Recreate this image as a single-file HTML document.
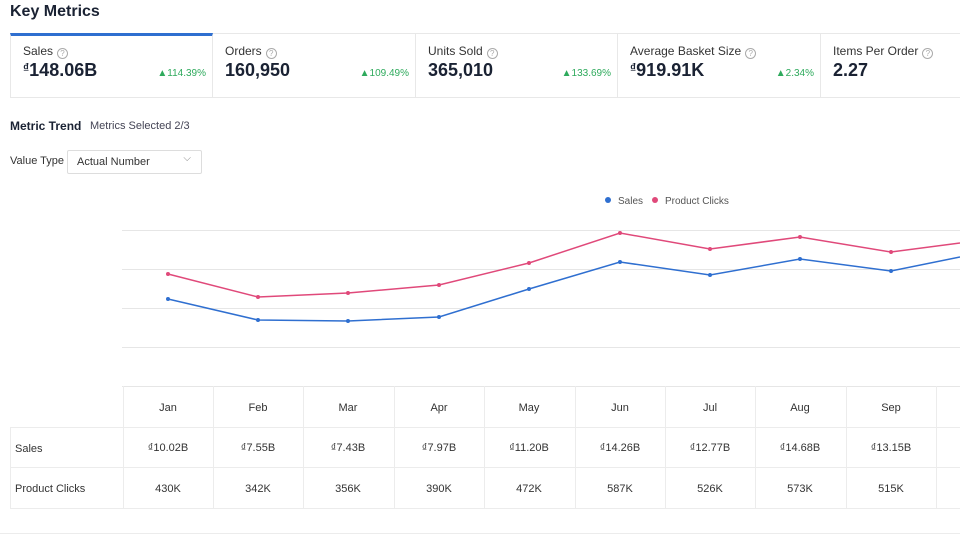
<!DOCTYPE html>
<html><head><meta charset="utf-8"><style>
*{margin:0;padding:0;box-sizing:border-box}
body{width:960px;height:539px;overflow:hidden;background:#fff;font-family:"Liberation Sans",Arial,sans-serif;color:#333;position:relative}
.a{position:absolute;white-space:nowrap}
.card{position:absolute;top:33px;height:65px;border:1px solid #e8e8e8;border-left:none}
.lbl{position:absolute;left:12px;top:10px;font-size:12px;color:#333}
.val{position:absolute;left:12px;top:26px;font-size:18px;font-weight:bold;color:#1a2233}
.pct{position:absolute;right:6px;top:34px;font-size:10px;color:#2eaa5c}
.q{display:inline-block;width:11px;height:11px;border:1px solid #aaa;border-radius:50%;font-size:8px;text-align:center;line-height:9px;color:#aaa;margin-left:4px;vertical-align:-1px}
.cell{position:absolute;font-size:11px;color:#333;text-align:center;border-right:1px solid #eee;border-bottom:1px solid #eee}
</style></head><body>
<div class="a" style="left:10px;top:3px;font-size:16px;font-weight:bold;color:#1a2233">Key Metrics</div>
<div class="card" style="left:10px;width:203px;border-left:1px solid #e8e8e8;border-top:3px solid #2f6fd0"><div class="lbl" style="top:8px">Sales<span class="q">?</span></div><div class="val" style="top:24px"><span style="font-size:12px;vertical-align:4px">₫</span>148.06B</div><div class="pct" style="top:32px">▲114.39%</div></div>
<div class="card" style="left:213px;width:203px"><div class="lbl">Orders<span class="q">?</span></div><div class="val">160,950</div><div class="pct">▲109.49%</div></div>
<div class="card" style="left:416px;width:202px"><div class="lbl">Units Sold<span class="q">?</span></div><div class="val">365,010</div><div class="pct">▲133.69%</div></div>
<div class="card" style="left:618px;width:203px"><div class="lbl">Average Basket Size<span class="q">?</span></div><div class="val"><span style="font-size:12px;vertical-align:4px">₫</span>919.91K</div><div class="pct">▲2.34%</div></div>
<div class="card" style="left:821px;width:150px"><div class="lbl">Items Per Order<span class="q">?</span></div><div class="val">2.27</div></div>
<div class="a" style="left:10px;top:119px;font-size:12px;font-weight:bold;color:#1a2233">Metric Trend</div>
<div class="a" style="left:90px;top:120px;font-size:11px;color:#445">Metrics Selected 2/3</div>
<div class="a" style="left:10px;top:155px;font-size:11px;color:#333">Value Type</div>
<div class="a" style="left:67px;top:150px;width:135px;height:24px;border:1px solid #ddd;border-radius:2px;font-size:11px;padding:5px 9px;color:#333">Actual Number<span style="position:absolute;right:10px;top:2px;color:#888;font-size:10px">⌵</span></div>
<svg class="a" style="left:0;top:0" width="960" height="539">
<g stroke="#e6e6e6" stroke-width="1"><line x1="122" y1="230.5" x2="960" y2="230.5"/><line x1="122" y1="269.5" x2="960" y2="269.5"/><line x1="122" y1="308.5" x2="960" y2="308.5"/><line x1="122" y1="347.5" x2="960" y2="347.5"/><line x1="122" y1="386.5" x2="960" y2="386.5"/></g>
<circle cx="608" cy="200" r="3" fill="#2f6fd0"/><text x="618" y="204" font-size="10" fill="#555" font-family="Liberation Sans">Sales</text>
<circle cx="655" cy="200" r="3" fill="#e0497a"/><text x="665" y="204" font-size="10" fill="#555" font-family="Liberation Sans">Product Clicks</text>
<polyline fill="none" stroke="#e0497a" stroke-width="1.5" points="168,274 258,297 348,293 439,285 529,263 620,233 710,249 800,237 891,252 960,243"/>
<polyline fill="none" stroke="#2f6fd0" stroke-width="1.5" points="168,299 258,320 348,321 439,317 529,289 620,262 710,275 800,259 891,271 960,257"/>
<g fill="#e0497a"><circle cx="168" cy="274" r="2"/><circle cx="258" cy="297" r="2"/><circle cx="348" cy="293" r="2"/><circle cx="439" cy="285" r="2"/><circle cx="529" cy="263" r="2"/><circle cx="620" cy="233" r="2"/><circle cx="710" cy="249" r="2"/><circle cx="800" cy="237" r="2"/><circle cx="891" cy="252" r="2"/></g>
<g fill="#2f6fd0"><circle cx="168" cy="299" r="2"/><circle cx="258" cy="320" r="2"/><circle cx="348" cy="321" r="2"/><circle cx="439" cy="317" r="2"/><circle cx="529" cy="289" r="2"/><circle cx="620" cy="262" r="2"/><circle cx="710" cy="275" r="2"/><circle cx="800" cy="259" r="2"/><circle cx="891" cy="271" r="2"/></g>
<g stroke="#ececec" stroke-width="1">
<line x1="123.5" y1="386" x2="123.5" y2="508"/><line x1="10.5" y1="427" x2="10.5" y2="508"/>
<line x1="10" y1="427.5" x2="960" y2="427.5"/><line x1="10" y1="467.5" x2="960" y2="467.5"/><line x1="10" y1="508.5" x2="960" y2="508.5"/>
<line x1="213.5" y1="386" x2="213.5" y2="508"/><line x1="303.5" y1="386" x2="303.5" y2="508"/><line x1="394.5" y1="386" x2="394.5" y2="508"/><line x1="484.5" y1="386" x2="484.5" y2="508"/><line x1="575.5" y1="386" x2="575.5" y2="508"/><line x1="665.5" y1="386" x2="665.5" y2="508"/><line x1="755.5" y1="386" x2="755.5" y2="508"/><line x1="846.5" y1="386" x2="846.5" y2="508"/><line x1="936.5" y1="386" x2="936.5" y2="508"/>
<line x1="0" y1="533.5" x2="960" y2="533.5"/>
</g>
<g font-size="11" fill="#333" font-family="Liberation Sans" text-anchor="middle">
<text x="168" y="411">Jan</text><text x="258" y="411">Feb</text><text x="348" y="411">Mar</text><text x="439" y="411">Apr</text><text x="529" y="411">May</text><text x="620" y="411">Jun</text><text x="710" y="411">Jul</text><text x="800" y="411">Aug</text><text x="891" y="411">Sep</text>
<text x="168" y="451">₫10.02B</text><text x="258" y="451">₫7.55B</text><text x="348" y="451">₫7.43B</text><text x="439" y="451">₫7.97B</text><text x="529" y="451">₫11.20B</text><text x="620" y="451">₫14.26B</text><text x="710" y="451">₫12.77B</text><text x="800" y="451">₫14.68B</text><text x="891" y="451">₫13.15B</text>
<text x="168" y="492">430K</text><text x="258" y="492">342K</text><text x="348" y="492">356K</text><text x="439" y="492">390K</text><text x="529" y="492">472K</text><text x="620" y="492">587K</text><text x="710" y="492">526K</text><text x="800" y="492">573K</text><text x="891" y="492">515K</text>
</g>
<g font-size="11" fill="#333" font-family="Liberation Sans"><text x="15" y="452">Sales</text><text x="15" y="492">Product Clicks</text></g>
</svg>
</body></html>
